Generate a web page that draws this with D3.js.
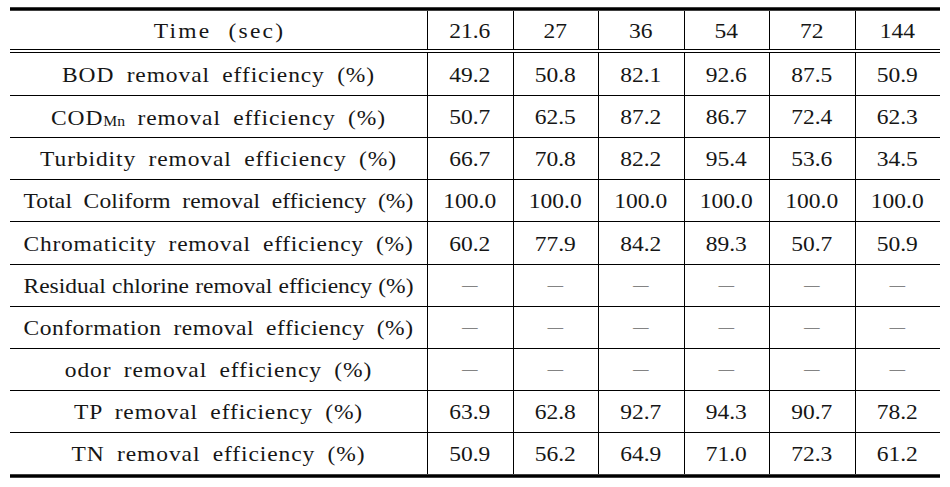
<!DOCTYPE html>
<html>
<head>
<meta charset="utf-8">
<script src="https://cdn.jsdelivr.net/npm/d3@7"></script>
<style>
	body { margin: 0; background: #fff; }
	text { font-family: "Liberation Serif", "DejaVu Serif", serif; fill: #161616; }
</style>
</head>
<body>
<script>
//column headers (time in seconds)
let times = ["21.6", "27", "36", "54", "72", "144"];

//row names, COD gets a subscript so it is split in parts
let rowNames = [
	["BOD removal efficiency (%)"],
	["COD", "Mn", " removal efficiency (%)"],
	["Turbidity removal efficiency (%)"],
	["Total Coliform removal efficiency (%)"],
	["Chromaticity removal efficiency (%)"],
	["Residual chlorine removal efficiency (%)"],
	["Conformation removal efficiency (%)"],
	["odor removal efficiency (%)"],
	["TP removal efficiency (%)"],
	["TN removal efficiency (%)"]
];

//values per row, null is a dash
let bod = [49.2, 50.8, 82.1, 92.6, 87.5, 50.9];
let codMn = [50.7, 62.5, 87.2, 86.7, 72.4, 62.3];
let turbidity = [66.7, 70.8, 82.2, 95.4, 53.6, 34.5];
let totalColiform = [100.0, 100.0, 100.0, 100.0, 100.0, 100.0];
let chromaticity = [60.2, 77.9, 84.2, 89.3, 50.7, 50.9];
let residualChlorine = [null, null, null, null, null, null];
let conformation = [null, null, null, null, null, null];
let odor = [null, null, null, null, null, null];
let tp = [63.9, 62.8, 92.7, 94.3, 90.7, 78.2];
let tn = [50.9, 56.2, 64.9, 71.0, 72.3, 61.2];

let values = [bod, codMn, turbidity, totalColiform, chromaticity, residualChlorine, conformation, odor, tp, tn];

let svg = d3.select("body").append("svg")
	.attr("width", 950)
	.attr("height", 487);

let xLeft = 10, xRight = 940, labelRight = 427;
let yTop = 11, headBottom = 49.5, bodyTop = 53, yBottom = 474;

let fmt = d3.format(".1f");

//columns for the data cells
let scaleX = d3.scaleBand()
	.domain(d3.range(times.length))
	.range([labelRight, xRight]);

//rows of the table body
let scaleY = d3.scaleBand()
	.domain(d3.range(values.length))
	.range([bodyTop, yBottom]);

let lines = svg.append("g").attr("stroke", "#000");

//horizontal rules between body rows
lines.selectAll(".row").data(d3.range(1, values.length)).enter().append("line")
	.attr("x1", xLeft).attr("x2", xRight)
	.attr("y1", d => Math.round(scaleY(d)) + 0.5)
	.attr("y2", d => Math.round(scaleY(d)) + 0.5)
	.attr("stroke-width", 1);

//double line under the header
[headBottom, headBottom + 3].forEach(y => {
	lines.append("line")
		.attr("x1", xLeft).attr("x2", xRight)
		.attr("y1", y).attr("y2", y)
		.attr("stroke-width", 1.2);
});

//thick top and bottom rules
lines.append("line").attr("x1", xLeft).attr("x2", xRight)
	.attr("y1", yTop - 2).attr("y2", yTop - 2).attr("stroke-width", 3.6);
lines.append("line").attr("x1", xLeft).attr("x2", xRight)
	.attr("y1", yBottom + 2).attr("y2", yBottom + 2).attr("stroke-width", 3.6);

//vertical lines between columns
let vx = [labelRight].concat(d3.range(1, times.length).map(i => scaleX(i)));
vx.forEach(x => {
	x = Math.round(x) + 0.5;
	lines.append("line").attr("x1", x).attr("x2", x)
		.attr("y1", yTop).attr("y2", headBottom);
	lines.append("line").attr("x1", x).attr("x2", x)
		.attr("y1", headBottom + 3).attr("y2", yBottom);
});

let fontSize = 21;
let stretch = 1.12; //the original font is wider than Times, so stretch a bit
let labelCenter = (xLeft + labelRight) / 2;
let headMid = (yTop + headBottom) / 2 + 1;

//helper: a centred, horizontally stretched text
function cellText(x, y) {
	return svg.append("text")
		.attr("transform", `translate(${x}, ${y}) scale(${stretch}, 1)`)
		.attr("text-anchor", "middle").attr("dominant-baseline", "central")
		.attr("font-size", fontSize);
}

//header row
cellText(labelCenter + 1, headMid)
	.attr("letter-spacing", 2).attr("word-spacing", 8)
	.text("Time (sec)");

times.forEach((d, i) => {
	cellText(scaleX(i) + scaleX.bandwidth() / 2, headMid).text(d);
});

//row labels, squeezed into the label column when too wide
let maxW = (labelRight - xLeft - 27) / stretch;
rowNames.forEach((parts, r) => {
	let t = cellText(labelCenter, scaleY(r) + scaleY.bandwidth() / 2 + 1)
		.attr("letter-spacing", 0.8)
		.attr("word-spacing", 5)
		.attr("xml:space", "preserve");
	if (parts.length === 1) {
		t.text(parts[0]);
	} else {
		t.append("tspan").text(parts[0]);
		t.append("tspan").attr("font-size", 14).attr("letter-spacing", 0).attr("dy", 4).text(parts[1]);
		t.append("tspan").attr("dy", -4).text(parts[2]);
	}
	let n = t.text().length;
	let w = t.node().getComputedTextLength();
	if (w > maxW) {
		//first take away letter spacing, then word spacing, then shrink
		let ls = Math.max(0, 0.8 - (w - maxW) / n);
		t.attr("letter-spacing", ls);
		w = t.node().getComputedTextLength();
		if (w > maxW) {
			t.attr("word-spacing", Math.max(0, 5 - (w - maxW) / 4));
			w = t.node().getComputedTextLength();
		}
		if (w > maxW) t.attr("font-size", fontSize * maxW / w);
	}
});

//cell values, missing ones are a dash
values.forEach((row, r) => {
	row.forEach((d, i) => {
		let t = cellText(scaleX(i) + scaleX.bandwidth() / 2, scaleY(r) + scaleY.bandwidth() / 2 + 1);
		if (d === null) t.attr("font-size", 14).text("\u2014");
		else t.text(fmt(d));
	});
});
</script>
</body>
</html>
